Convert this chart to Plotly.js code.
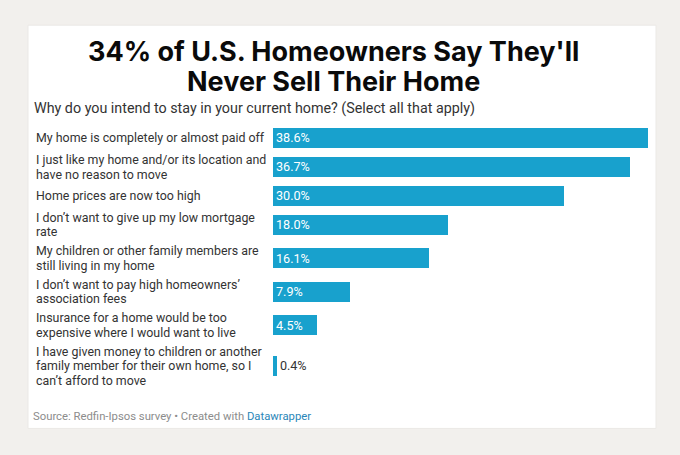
<!DOCTYPE html>
<html>
<head>
<meta charset="utf-8">
<script src="https://cdn.plot.ly/plotly-3.0.1.min.js"></script>
<style>
  html, body { margin: 0; padding: 0; background: #f2f0ed; }
  #chart { width: 680px; height: 455px; }
</style>
</head>
<body>
<div id="chart"></div>
<script>
// ---- data ----
const categories = [
  "My home is completely or almost paid off",
  "I just like my home and/or its location and<br>have no reason to move",
  "Home prices are now too high",
  "I don’t want to give up my low mortgage<br>rate",
  "My children or other family members are<br>still living in my home",
  "I don’t want to pay high homeowners’<br>association fees",
  "Insurance for a home would be too<br>expensive where I would want to live",
  "I have given money to children or another<br>family member for their own home, so I<br>can’t afford to move"
];
const values = [38.6, 36.7, 30.0, 18.0, 16.1, 7.9, 4.5, 0.4];
const titleLines = ["34% of U.S. Homeowners Say They'll", "Never Sell Their Home"];
const subtitleText = "Why do you intend to stay in your current home? (Select all that apply)";
const sourceText = "Source: Redfin-Ipsos survey • Created with ";
const creditText = "Datawrapper";

// ---- layout helpers (row heights depend on the label line count) ----
const W = 680, H = 455;
const ML = 273, MR = 32, MT = 128;
const BAR = 20, LINE = 14.7, GAP = 4.2;
const lines = categories.map(c => c.split("<br>"));
const rowH = lines.map(l => Math.max(BAR, LINE * l.length));
const centers = [];
let rowTop = 0;
rowH.forEach((h, i) => { centers.push(rowTop + h / 2); rowTop += h + (i < rowH.length - 1 ? GAP : 0); });
const total = rowTop;
const MB = H - MT - total;
const plotW = W - ML - MR;
const px2x = p => (p - ML) / plotW;
const py2y = p => (MT + total - p) / total;

const blue = "#18a1cd";
const labelFont = { family: "Roboto", size: 12.4, color: "#333333" };
const trace = {
  type: "bar",
  orientation: "h",
  x: values,
  y: centers,
  width: BAR,
  marker: { color: blue, line: { width: 0 } },
  text: values.map(v => v.toFixed(1) + "%"),
  textposition: values.map(v => v > 2 ? "inside" : "outside"),
  insidetextanchor: "start",
  constraintext: "none",
  insidetextfont: { family: "Roboto", size: 12.6, color: "#ffffff" },
  outsidetextfont: { family: "Roboto", size: 12.6, color: "#333333" },
  cliponaxis: false,
  hoverinfo: "skip"
};

const annotations = [];
lines.forEach((ls, i) => {
  ls.forEach((t, j) => {
    annotations.push({
      xref: "paper", yref: "y",
      x: px2x(34), y: centers[i] + (j - (ls.length - 1) / 2) * LINE,
      xanchor: "left", yanchor: "middle",
      text: t, showarrow: false, font: labelFont
    });
  });
});
// title (two lines, 30px apart)
titleLines.forEach((t, j) => {
  annotations.push({
    xref: "paper", yref: "paper",
    x: px2x(333), y: py2y(51 + j * 30), xanchor: "center", yanchor: "middle",
    text: "<b>" + t + "</b>", showarrow: false,
    font: { family: "Inter", size: 27, weight: 800, color: "#0a0a0a" }
  });
});
annotations.push({
  xref: "paper", yref: "paper",
  x: px2x(32), y: py2y(108), xanchor: "left", yanchor: "middle",
  text: subtitleText, showarrow: false,
  font: { family: "Roboto", size: 14.3, color: "#333333" }
});
annotations.push({
  xref: "paper", yref: "paper",
  x: px2x(31), y: py2y(417), xanchor: "left", yanchor: "middle",
  text: sourceText + "<span style='color:#2a86b8'>" + creditText + "</span>",
  showarrow: false,
  font: { family: "Roboto", size: 11.3, color: "#8c8c8c" }
});

const layout = {
  width: W, height: H,
  margin: { l: ML, r: MR, t: MT, b: MB, pad: 0 },
  paper_bgcolor: "#f2f0ed",
  plot_bgcolor: "rgba(0,0,0,0)",
  showlegend: false,
  xaxis: { range: [0, Math.max(...values)], visible: false, fixedrange: true },
  yaxis: { range: [total, 0], visible: false, fixedrange: true },
  shapes: [{
    type: "rect", layer: "below", xref: "paper", yref: "paper",
    x0: px2x(28), x1: px2x(656), y0: py2y(429), y1: py2y(25),
    fillcolor: "#ffffff", line: { color: "#ebe9e6", width: 1 }
  }],
  annotations: annotations,
  bargap: 0
};

Plotly.newPlot("chart", [trace], layout, { displayModeBar: false, staticPlot: true });
</script>
</body>
</html>
